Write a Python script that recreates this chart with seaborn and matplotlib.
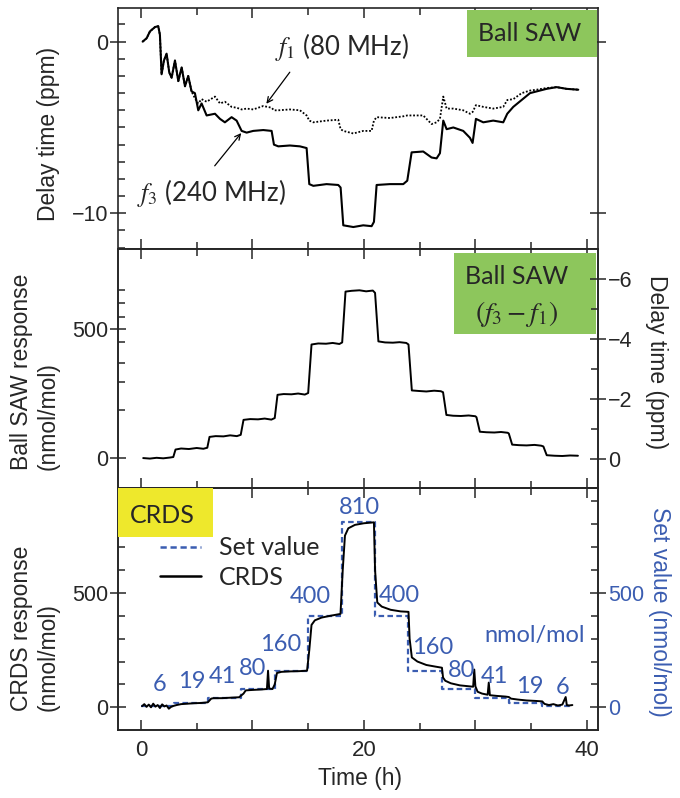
import numpy as np
import pandas as pd
import seaborn as sns
import matplotlib.pyplot as plt
from matplotlib.lines import Line2D
from matplotlib.patches import Rectangle
from matplotlib.ticker import MultipleLocator, FixedLocator, FuncFormatter

# ---- data ----
# top panel: delay time (ppm) of f1 (80 MHz, dotted) and f3 (240 MHz, solid)
top_t = [0.15, 0.51, 0.81, 1.26, 1.55, 1.70, 1.85, 2.06, 2.30, 2.54,
         2.75, 3.05, 3.35, 3.65, 3.95, 4.24, 4.54, 4.84, 5.14, 5.44,
         5.89, 6.64, 7.09, 7.53, 8.13, 8.58, 9.03, 9.48, 10.07, 10.97,
         11.72, 11.93, 12.32, 13.36, 14.26, 14.86, 15.10, 15.46, 16.65, 17.70,
         17.91, 18.15, 19.05, 19.94, 20.69, 20.90, 21.14, 22.33, 23.53, 23.89,
         24.28, 25.32, 26.07, 26.52, 26.82, 27.12, 27.42, 28.02, 28.91, 29.51,
         29.75, 30.05, 30.71, 31.60, 32.50, 32.86, 33.40, 34.15, 34.90, 35.49,
         36.39, 37.29, 38.18, 39.23]
f3_delay = [0.0, 0.2, 0.6, 0.85, 0.9, 0.4, -1.9, -1.1, -0.7, -1.8,
            -2.1, -1.1, -2.3, -1.5, -2.6, -2.0, -2.9, -3.0, -4.0, -3.6,
            -4.3, -4.2, -4.5, -4.7, -4.4, -4.6, -5.2, -5.3, -5.2, -5.15,
            -5.2, -6.0, -6.1, -6.05, -6.1, -6.2, -8.3, -8.4, -8.3, -8.35,
            -8.5, -10.7, -10.8, -10.7, -10.75, -10.5, -8.35, -8.3, -8.3, -8.1,
            -6.45, -6.4, -6.75, -6.8, -6.5, -4.6, -5.1, -5.0, -5.2, -5.6,
            -5.9, -4.5, -4.7, -4.6, -4.7, -4.2, -3.8, -3.4, -3.0, -2.9,
            -2.75, -2.65, -2.75, -2.8]
f1_delay = [0.0, 0.2, 0.6, 0.85, 0.9, 0.4, -1.9, -1.1, -0.7, -1.8,
            -2.1, -1.1, -2.3, -1.5, -2.6, -2.0, -2.9, -3.3, -3.6, -3.35,
            -3.5, -3.2, -3.6, -3.5, -3.8, -3.85, -3.95, -3.9, -3.95, -3.75,
            -3.85, -4.0, -4.0, -3.95, -4.0, -4.3, -4.6, -4.7, -4.6, -4.55,
            -5.1, -5.2, -5.35, -5.2, -5.2, -4.6, -4.4, -4.45, -4.35, -4.3,
            -4.3, -4.3, -4.8, -4.7, -4.5, -3.2, -3.9, -3.9, -4.0, -4.2,
            -4.1, -3.7, -3.8, -3.9, -3.8, -3.4, -3.35, -3.0, -2.85, -2.8,
            -2.7, -2.65, -2.75, -2.8]

# middle panel: Ball SAW response (nmol/mol)
saw_t = [0.2, 0.8, 1.4, 2.0, 2.6, 2.9,
         3.1, 3.6, 4.3, 5.0, 5.6, 5.95,
         6.15, 6.7, 7.4, 8.0, 8.6, 8.95,
         9.2, 9.8, 10.5, 11.1, 11.7, 12.0,
         12.25, 12.8, 13.5, 14.1, 14.7, 15.0,
         15.3, 15.9, 16.6, 17.2, 17.8, 18.05,
         18.35, 18.9, 19.6, 20.2, 20.8, 21.0,
         21.3, 21.9, 22.6, 23.2, 23.8, 24.0,
         24.3, 24.9, 25.6, 26.3, 26.9, 27.1,
         27.4, 28.0, 28.7, 29.4, 30.0, 30.1,
         30.4, 31.0, 31.7, 32.3, 32.9, 33.0,
         33.3, 33.9, 34.6, 35.3, 35.9, 36.1,
         36.4, 37.1, 37.8, 38.5, 39.2]
saw_resp = [0, -2, 1, -1, 2, 4,
            33, 37, 35, 39, 36, 40,
            82, 85, 84, 88, 85, 90,
            148, 151, 150, 153, 149, 155,
            245, 248, 247, 250, 246, 252,
            440, 444, 443, 446, 442, 448,
            645, 648, 650, 646, 649, 640,
            452, 448, 447, 449, 446, 440,
            262, 260, 258, 261, 259, 255,
            167, 164, 163, 165, 162, 158,
            102, 100, 99, 101, 98, 95,
            52, 50, 49, 51, 48, 45,
            11, 9, 8, 10, 9]
saw_minor_ticks = [188, 293, 368, 451, 547, 599, 650]

# bottom panel: CRDS response and set values (nmol/mol)
crds_t = [0.1, 0.3, 0.5, 0.7, 0.9, 1.1, 1.3, 1.5, 1.7, 1.9,
          2.1, 2.3, 2.5, 2.7, 2.9, 3.2, 3.6, 4.2, 4.8, 5.4,
          6.0, 6.3, 6.5, 7.2, 8.0, 8.8, 9.2, 9.4, 10.0, 10.8,
          11.3, 11.4, 11.5, 11.8, 12.0, 12.2, 12.6, 13.4, 14.2, 14.9,
          15.1, 15.3, 15.6, 16.2, 17.0, 17.9, 18.1, 18.3, 18.6, 19.2,
          20.0, 20.9, 21.0, 21.2, 21.6, 22.4, 23.3, 24.0, 24.1, 24.3,
          24.8, 25.6, 26.4, 27.0, 27.1, 27.3, 27.8, 28.6, 29.4, 29.8,
          29.9, 30.0, 30.2, 30.6, 31.1, 31.2, 31.3, 31.9, 32.7, 33.0,
          33.2, 33.8, 34.6, 35.4, 36.0, 36.2, 36.6, 37.0, 37.4, 37.8,
          38.1, 38.2, 38.4, 38.7]
crds_resp = [5, 14, 2, 12, 0, 16, 3, 10, -3, 13,
             4, 8, -6, 2, 6, 10, 14, 16, 18, 19,
             22, 38, 40, 40, 42, 44, 60, 74, 76, 78,
             80, 160, 82, 80, 100, 150, 155, 157, 158, 160,
             250, 360, 380, 392, 400, 408, 600, 750, 782, 797,
             804, 808, 600, 458, 440, 426, 419, 417, 300, 218,
             200, 185, 178, 173, 130, 116, 105, 96, 92, 90,
             165, 92, 68, 60, 55, 108, 53, 50, 47, 45,
             38, 34, 30, 28, 26, 15, 10, 14, 8, 12,
             45, 10, 8, 10]
set_t = [0, 3, 6, 9, 12, 15, 18, 21, 24, 27, 30, 33, 36, 38.7]
set_value = [6, 19, 41, 80, 160, 400, 810, 400, 160, 80, 41, 19, 6, 6]

# set-value labels: text, time, height
set_labels = ['6', '19', '41', '80', '160', '400', '810',
              '400', '160', '80', '41', '19', '6']
set_label_t = [1.7, 4.6, 7.3, 10.0, 12.5, 15.2, 19.6,
               23.2, 26.2, 28.8, 31.7, 34.9, 37.8]
set_label_y = [101, 114, 136, 171, 275, 483, 875,
               487, 261, 162, 136, 93, 88]

BLUE = '#3b5db1'
GREEN = '#8dc65c'
YELLOW = '#eee82c'
SANS = ['Liberation Sans', 'DejaVu Sans']
CAL = ['Lato', 'DejaVu Sans']

sns.set_style("ticks")
plt.rcParams['font.family'] = SANS
plt.rcParams['mathtext.fontset'] = 'stix'
plt.rcParams['axes.linewidth'] = 1.2

fig = plt.figure(figsize=(6.8, 7.98), dpi=100)
gs = fig.add_gridspec(3, 1, height_ratios=[241, 239, 242], hspace=0,
                      left=118 / 680, right=598 / 680,
                      top=1 - 8 / 798, bottom=1 - 730 / 798)
ax1 = fig.add_subplot(gs[0])
ax2 = fig.add_subplot(gs[1], sharex=ax1)
ax3 = fig.add_subplot(gs[2], sharex=ax1)
ax2r = ax2.twinx()
ax3r = ax3.twinx()

# ---- top panel ----
sns.lineplot(x=top_t, y=f1_delay, ax=ax1, color='black', lw=1.3,
             linestyle=(0, (1, 1)), estimator=None, sort=False)
sns.lineplot(x=top_t, y=f3_delay, ax=ax1, color='black', lw=1.5,
             estimator=None, sort=False)
ax1.set_ylim(-12.08, 1.96)
ax1.set_yticks([0, -10])
ax1.yaxis.set_minor_locator(MultipleLocator(1))
ax1.annotate('', xy=(11.1, -3.75), xytext=(13.5, -1.65),
             arrowprops=dict(arrowstyle='->', lw=0.9, color='black'))
ax1.annotate('', xy=(9.15, -5.2), xytext=(6.46, -7.36),
             arrowprops=dict(arrowstyle='->', lw=0.9, color='black'))
ax1.text(18.0, -0.31, r'$f_1$ (80 MHz)', ha='center', va='center',
         fontsize=18.5, family=CAL)
ax1.text(6.37, -8.82, r'$f_3$ (240 MHz)', ha='center', va='center',
         fontsize=18.5, family=CAL)
ax1.add_patch(Rectangle((0.727, 0.797), 0.271, 0.195, transform=ax1.transAxes,
                        facecolor=GREEN, edgecolor='none', zorder=3))
ax1.text(0.858, 0.896, 'Ball SAW', transform=ax1.transAxes, ha='center',
         va='center', fontsize=18, family=CAL, zorder=4)
ax1.set_ylabel('Delay time (ppm)', fontsize=16.5)
ax1.yaxis.set_label_coords(-0.121, 0.477)

# ---- middle panel ----
sns.lineplot(x=saw_t, y=saw_resp, ax=ax2, color='black', lw=1.4,
             estimator=None, sort=False)
ax2.set_ylim(-116, 810)
ax2.set_yticks([0, 500])
ax2.yaxis.set_minor_locator(FixedLocator(saw_minor_ticks))
ax2r.set_ylim(0.97, -7.0)
ax2r.set_yticks([0, -2, -4, -6])
ax2r.set_yticks([-1, -3, -5], minor=True)
ax2.add_patch(Rectangle((0.70, 0.644), 0.296, 0.339, transform=ax2.transAxes,
                        facecolor=GREEN, edgecolor='none', zorder=3))
ax2r.text(0.831, 0.887, 'Ball SAW', transform=ax2.transAxes, ha='center',
          va='center', fontsize=18, family=CAL, zorder=4)
ax2r.text(0.831, 0.728, r'$(f_3 - f_1)$', transform=ax2.transAxes,
          ha='center', va='center', fontsize=20, zorder=4)
ax2.set_ylabel('Ball SAW response\n(nmol/mol)', fontsize=16.5,
               multialignment='left')
ax2.yaxis.set_label_coords(-0.121, 0.487)
ax2r.set_ylabel('Delay time (ppm)', fontsize=16.5, rotation=270, va='bottom')
ax2r.yaxis.set_label_coords(1.098, 0.529)

# ---- bottom panel ----
sns.lineplot(x=set_t, y=set_value, ax=ax3r, color=BLUE, lw=1.6,
             drawstyle='steps-post', dashes=False, linestyle=(0, (2.5, 1.5)),
             estimator=None, sort=False)
sns.lineplot(x=crds_t, y=crds_resp, ax=ax3, color='black', lw=1.4,
             estimator=None, sort=False, zorder=3)
ax3.set_zorder(ax3r.get_zorder() + 1)
ax3.patch.set_visible(False)
for a in (ax3, ax3r):
    a.set_ylim(-99, 958)
    a.set_yticks([0, 500])
    a.yaxis.set_minor_locator(MultipleLocator(100))
for lab, tt, yy in zip(set_labels, set_label_t, set_label_y):
    ax3.text(tt, yy, lab, color=BLUE, ha='center', va='center',
             fontsize=17, family=CAL)
ax3.text(35.3, 314, 'nmol/mol', color=BLUE, ha='center', va='center',
         fontsize=17, family=CAL)
ax3.add_patch(Rectangle((0, 0.797), 0.198, 0.203, transform=ax3.transAxes,
                        facecolor=YELLOW, edgecolor='none', zorder=3))
ax3.text(0.092, 0.888, 'CRDS', transform=ax3.transAxes, ha='center',
         va='center', fontsize=18, family=CAL, zorder=4)
handles = [Line2D([], [], color=BLUE, lw=1.8, linestyle=(0, (2.5, 1.5))),
           Line2D([], [], color='black', lw=1.8)]
ax3.legend(handles, ['Set value', 'CRDS'], loc='upper left',
           bbox_to_anchor=(0.0875, 0.80), frameon=False, borderpad=0,
           borderaxespad=0, handlelength=1.65, handletextpad=0.7,
           labelspacing=0.25, prop={'family': CAL, 'size': 18})
ax3.set_ylabel('CRDS response\n(nmol/mol)', fontsize=16.5,
               multialignment='left')
ax3.yaxis.set_label_coords(-0.121, 0.42)
ax3r.set_ylabel('Set value (nmol/mol)', fontsize=16.5, rotation=270,
                va='bottom', color=BLUE)
ax3r.yaxis.set_label_coords(1.104, 0.49)
ax3.set_xlabel('Time (h)', fontsize=16.5)
ax3.xaxis.set_label_coords(0.504, -0.153)

# ---- shared x axis and ticks ----
ax1.set_xlim(-2.06, 41.0)
ax1.xaxis.set_major_locator(MultipleLocator(10))
ax1.xaxis.set_minor_locator(MultipleLocator(5))
ax3.xaxis.set_major_formatter(FuncFormatter(
    lambda v, p: f'{v:.0f}' if round(v) % 20 == 0 else ''))

for a in (ax1, ax2, ax3, ax2r, ax3r):
    a.tick_params(which='both', direction='in', top=True, labelsize=15.5,
                  width=1.1, pad=1)
    a.tick_params(which='major', length=7)
    a.tick_params(which='minor', length=5)
    a.tick_params(axis='y', which='major', direction='inout', length=12)
ax1.tick_params(right=True, labelbottom=False)
ax2.tick_params(right=False, labelbottom=False)
ax3.tick_params(right=False)
ax3.tick_params(axis='x', pad=7, labelsize=16)
ax3r.tick_params(axis='y', labelcolor=BLUE)
for a in (ax2r, ax3r):
    a.tick_params(left=False, top=False)

plt.savefig('out.png', dpi=100)
